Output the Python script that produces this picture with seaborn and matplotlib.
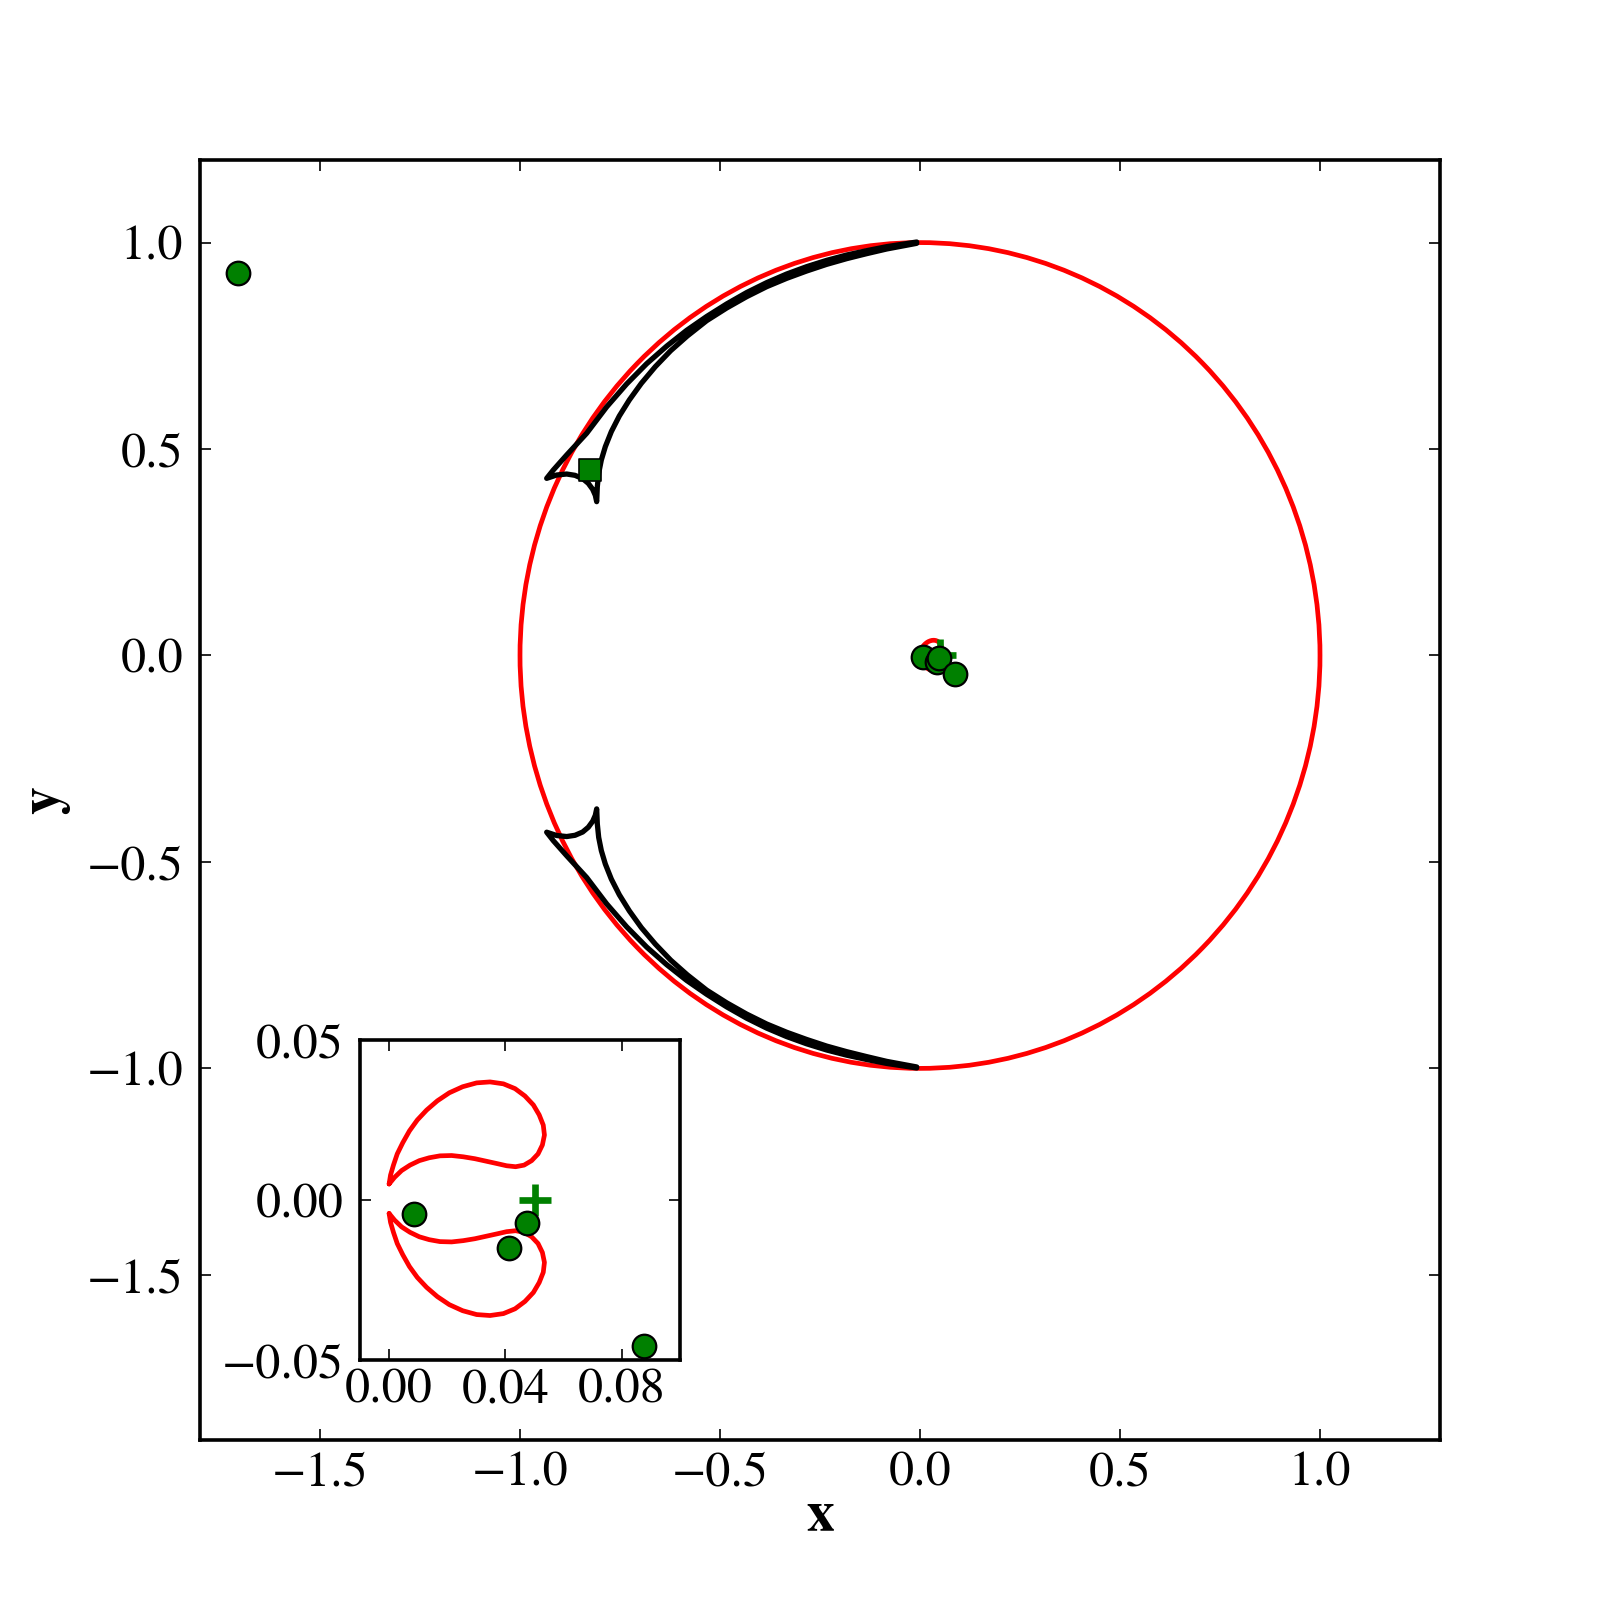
import numpy as np
import matplotlib
matplotlib.use("Agg")
import matplotlib.pyplot as plt
from matplotlib.patches import Circle
import seaborn as sns

# critical curve (red): the big ring is a circle of radius ~1 round the origin
crit_center = (0.0, 0.0)
crit_radius = 1.0

# small critical loops near the planet
loop_up_x = [0.0, 0.0005, 0.0015, 0.0028, 0.0047, 0.0070, 0.0097, 0.0129, 0.0166, 0.0207,
             0.0253, 0.0301, 0.0347, 0.0393, 0.0433, 0.0467, 0.0496, 0.0516, 0.0530, 0.0534,
             0.0527, 0.0512, 0.0490, 0.0464, 0.0435, 0.0404, 0.0370, 0.0335, 0.0295, 0.0255,
             0.0215, 0.0175, 0.0138, 0.0104, 0.0072, 0.0043, 0.0019, 0.0]
loop_up_y = [0.0050, 0.0078, 0.0109, 0.0144, 0.0179, 0.0216, 0.0250, 0.0281, 0.0310, 0.0335,
             0.0354, 0.0366, 0.0369, 0.0363, 0.0348, 0.0325, 0.0297, 0.0266, 0.0234, 0.0203,
             0.0172, 0.0144, 0.0123, 0.0109, 0.0104, 0.0107, 0.0114, 0.0121, 0.0129, 0.0135,
             0.0139, 0.0138, 0.0132, 0.0123, 0.0109, 0.0092, 0.0071, 0.0050]

loop_dn_x = [0.0, 0.0005, 0.0015, 0.0028, 0.0047, 0.0070, 0.0097, 0.0129, 0.0166, 0.0207,
             0.0253, 0.0301, 0.0347, 0.0393, 0.0433, 0.0467, 0.0496, 0.0516, 0.0530, 0.0534,
             0.0527, 0.0512, 0.0490, 0.0464, 0.0435, 0.0404, 0.0370, 0.0335, 0.0295, 0.0255,
             0.0215, 0.0175, 0.0138, 0.0104, 0.0072, 0.0043, 0.0019, 0.0]
loop_dn_y = [-0.0042, -0.0070, -0.0101, -0.0136, -0.0171, -0.0208, -0.0242, -0.0273, -0.0302, -0.0327,
             -0.0346, -0.0358, -0.0361, -0.0355, -0.0340, -0.0317, -0.0289, -0.0258, -0.0226, -0.0195,
             -0.0164, -0.0136, -0.0115, -0.0101, -0.0096, -0.0099, -0.0106, -0.0113, -0.0121, -0.0127,
             -0.0131, -0.0130, -0.0124, -0.0115, -0.0101, -0.0084, -0.0063, -0.0042]

# caustic (black), upper half: outer branch -> short arc -> inner branch
caus_up_x = [-0.0083, -0.0833, -0.1333, -0.1833, -0.2333, -0.2833, -0.3333, -0.3833, -0.4333, -0.4833,
             -0.5333, -0.5833, -0.6333, -0.6833, -0.7333, -0.7833, -0.8333, -0.8833, -0.9167, -0.9333,
             -0.9083, -0.8833, -0.8625, -0.8433, -0.8292, -0.8183, -0.8117, -0.8083,
             -0.8067, -0.8033, -0.7967, -0.7867, -0.7717, -0.7517, -0.7267, -0.6967, -0.6617, -0.6233,
             -0.5817, -0.5333, -0.4833, -0.4333, -0.3833, -0.3333, -0.2833, -0.2333, -0.1833, -0.1333,
             -0.0833, -0.0083]
caus_up_y = [1.0014, 0.9901, 0.9804, 0.9699, 0.9570, 0.9417, 0.9239, 0.9030, 0.8790, 0.8514,
             0.8210, 0.7875, 0.7492, 0.7067, 0.6577, 0.6021, 0.5382, 0.4856, 0.4492, 0.4290,
             0.4371, 0.4395, 0.4363, 0.4282, 0.4169, 0.4024, 0.3879, 0.3725,
             0.4089, 0.4412, 0.4734, 0.5057, 0.5421, 0.5800, 0.6188, 0.6591, 0.6995, 0.7382,
             0.7738, 0.8109, 0.8416, 0.8690, 0.8932, 0.9134, 0.9312, 0.9473, 0.9611, 0.9732,
             0.9845, 0.9982]

# caustic (black), lower half
caus_dn_x = [-0.0083, -0.0833, -0.1333, -0.1833, -0.2333, -0.2833, -0.3333, -0.3833, -0.4333, -0.4833,
             -0.5333, -0.5833, -0.6333, -0.6833, -0.7333, -0.7833, -0.8333, -0.8833, -0.9167, -0.9333,
             -0.9083, -0.8833, -0.8625, -0.8433, -0.8292, -0.8183, -0.8117, -0.8083,
             -0.8067, -0.8033, -0.7967, -0.7867, -0.7717, -0.7517, -0.7267, -0.6967, -0.6617, -0.6233,
             -0.5817, -0.5333, -0.4833, -0.4333, -0.3833, -0.3333, -0.2833, -0.2333, -0.1833, -0.1333,
             -0.0833, -0.0083]
caus_dn_y = [-0.9990, -0.9880, -0.9785, -0.9680, -0.9555, -0.9405, -0.9230, -0.9025, -0.8785, -0.8510,
             -0.8205, -0.7870, -0.7488, -0.7062, -0.6572, -0.6016, -0.5378, -0.4850, -0.4485, -0.4280,
             -0.4360, -0.4385, -0.4355, -0.4275, -0.4160, -0.4015, -0.3870, -0.3715,
             -0.4080, -0.4405, -0.4725, -0.5050, -0.5415, -0.5795, -0.6185, -0.6590, -0.6990, -0.7378,
             -0.7735, -0.8105, -0.8412, -0.8685, -0.8925, -0.9125, -0.9300, -0.9460, -0.9595, -0.9715,
             -0.9830, -0.9965]

# images, source and lens positions
img_x = [-1.704, 0.0086, 0.0413, 0.0475, 0.0876]
img_y = [0.926, -0.0044, -0.0151, -0.0073, -0.0456]
src_x = [-0.825]
src_y = [0.449]
lens_x = [0.0502]
lens_y = [0.0]

main_xticks = [-1.5, -1.0, -0.5, 0.0, 0.5, 1.0]
main_yticks = [-1.5, -1.0, -0.5, 0.0, 0.5, 1.0]
inset_xticks = [0.0, 0.04, 0.08]
inset_yticks = [-0.05, 0.0, 0.05]

sns.set_style("ticks")
plt.rcParams['font.family'] = ['STIXGeneral', 'Liberation Serif', 'DejaVu Serif']
plt.rcParams['axes.linewidth'] = 1.3
plt.rcParams['axes.edgecolor'] = 'black'
plt.rcParams['text.color'] = 'black'
plt.rcParams['axes.labelcolor'] = 'black'
plt.rcParams['xtick.color'] = 'black'
plt.rcParams['ytick.color'] = 'black'
plt.rcParams['axes.unicode_minus'] = True

GREEN = (0, 0.5, 0)


def fmt(v, nd):
    s = "%.*f" % (nd, abs(v))
    return s if v >= 0 else "\u2212" + s


def draw(ax):
    ax.add_patch(Circle(crit_center, crit_radius, fill=False, ec='r', lw=1.7, zorder=2))
    for lx, ly in [(loop_up_x, loop_up_y), (loop_dn_x, loop_dn_y)]:
        sns.lineplot(x=lx, y=ly, sort=False, estimator=None, color='r', lw=1.7, ax=ax)
    for cx, cy in [(caus_up_x, caus_up_y), (caus_dn_x, caus_dn_y)]:
        sns.lineplot(x=cx, y=cy, sort=False, estimator=None, color='k', lw=1.9, ax=ax)
    sns.scatterplot(x=lens_x, y=lens_y, marker='+', s=130, color=GREEN, linewidth=2.4, ax=ax, zorder=4)
    sns.scatterplot(x=src_x, y=src_y, marker='s', s=64, color=GREEN, edgecolor='k', linewidth=0.6, ax=ax, zorder=5)
    sns.scatterplot(x=img_x, y=img_y, marker='o', s=72, color=GREEN, edgecolor='k', linewidth=0.8, ax=ax, zorder=6)


def style_ticks(ax, xpad, ypad):
    ax.tick_params(direction='in', top=True, right=True, length=4, width=0.6,
                   labelsize=18)
    ax.tick_params(axis='x', pad=xpad)
    ax.tick_params(axis='y', pad=ypad)


fig = plt.figure(figsize=(8, 8), dpi=200)
ax = fig.add_axes([0.125, 0.1, 0.775, 0.8])
draw(ax)
ax.set_xlim(-1.8, 1.3)
ax.set_ylim(-1.9, 1.2)
ax.set_xticks(main_xticks)
ax.set_yticks(main_yticks)
ax.set_xticklabels([fmt(v, 1) for v in main_xticks])
ax.set_yticklabels([fmt(v, 1) for v in main_yticks])
style_ticks(ax, 4, 6)
ax.set_xlabel("x", fontsize=20, fontweight='bold', labelpad=-2)
ax.set_ylabel("y", fontsize=20, fontweight='bold', labelpad=6)

axin = fig.add_axes([0.225, 0.15, 0.2, 0.2])
draw(axin)
axin.set_xlim(-0.01, 0.1)
axin.set_ylim(-0.05, 0.05)
axin.set_xticks(inset_xticks)
axin.set_yticks(inset_yticks)
axin.set_xticklabels([fmt(v, 2) for v in inset_xticks])
axin.set_yticklabels([fmt(v, 2) for v in inset_yticks])
style_ticks(axin, 3, 6)

fig.savefig("out.png", dpi=200, facecolor='white')
